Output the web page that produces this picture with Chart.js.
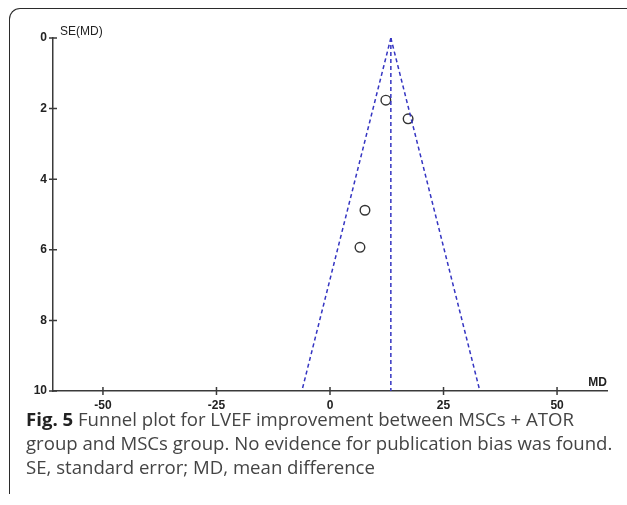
<!DOCTYPE html>
<html>
<head>
<meta charset="utf-8">
<script src="https://cdn.jsdelivr.net/npm/chart.js@4.4.1/dist/chart.umd.min.js"></script>
<style>
  html, body { margin: 0; padding: 0; background: #fff; }
  #wrap { position: relative; width: 627px; height: 505px; overflow: hidden; }
  #frame {
    position: absolute; left: 9px; top: 8px; width: 640px; height: 486px;
    border-top: 1.6px solid #2b2b2b; border-left: 1.6px solid #2b2b2b;
    border-top-left-radius: 11px; box-sizing: border-box;
  }
  #chartBox { position: absolute; left: 0; top: 0; width: 627px; height: 505px; }
  #caption {
    position: absolute; left: 26px; top: 407px;
    font-family: "Open Sans", sans-serif; font-size: 18.6px; line-height: 24px;
    color: #444; white-space: nowrap;
  }
  #caption b { color: #222; }
</style>
</head>
<body>
<div id="wrap">
  <div id="frame"></div>
  <div id="chartBox"><canvas id="funnelChart"></canvas></div>
  <div id="caption">
    <div><b>Fig. 5</b> Funnel plot for LVEF improvement between MSCs + ATOR</div>
    <div>group and MSCs group. No evidence for publication bias was found.</div>
    <div>SE, standard error; MD, mean difference</div>
  </div>
</div>
<script>
// study points (mean difference vs standard error)
let studyMD = [12.3, 17.2, 7.7, 6.6];
let studySE = [1.76, 2.29, 4.88, 5.93];

// funnel lines
let funnelSE = [0, 10];
let centerMD = [13.4, 13.4];
let lowerMD = [13.4, -6.2];
let upperMD = [13.4, 33.0];

let xTicks = [-50, -25, 0, 25, 50];
let yTicks = [0, 2, 4, 6, 8, 10];

let axisColor = '#3a3a3a';
let funnelColor = '#3535c2';
let tickFont = { family: '"Liberation Sans", Arial, sans-serif', size: 12, weight: 'bold' };

function toPoints(xs, ys){
    let pts = [];
    for(let i = 0; i < xs.length; i++){
        pts.push({x: xs[i], y: ys[i]});
    }
    return pts;
}

function funnelLine(xs){
    return {
        type: 'line',
        data: toPoints(xs, funnelSE),
        borderColor: funnelColor,
        borderWidth: 1.5,
        borderDash: [4, 3],
        pointRadius: 0,
        fill: false,
        tension: 0
    };
}

// tick marks that cross the axis line, plus the axis titles
const axisDecor = {
    id: 'axisDecor',
    afterDraw(chart){
        const ctx = chart.ctx;
        const xs = chart.scales.x;
        const ys = chart.scales.y;
        const area = chart.chartArea;
        ctx.save();
        ctx.strokeStyle = axisColor;
        ctx.lineWidth = 1.5;
        ctx.beginPath();
        xs.ticks.forEach(t => {
            let px = xs.getPixelForValue(t.value);
            ctx.moveTo(px, area.bottom - 4);
            ctx.lineTo(px, area.bottom + 4);
        });
        ys.ticks.forEach(t => {
            let py = ys.getPixelForValue(t.value);
            ctx.moveTo(area.left - 4, py);
            ctx.lineTo(area.left + 4, py);
        });
        ctx.stroke();

        ctx.fillStyle = '#222';
        ctx.font = '12px "Liberation Sans", Arial, sans-serif';
        ctx.textBaseline = 'middle';
        ctx.textAlign = 'left';
        ctx.fillText('SE(MD)', area.left + 7, area.top - 6);
        ctx.font = 'bold 12px "Liberation Sans", Arial, sans-serif';
        ctx.textAlign = 'right';
        ctx.fillText('MD', area.right, area.bottom - 8);
        ctx.restore();
    }
};

new Chart(document.getElementById('funnelChart'), {
    type: 'scatter',
    data: {
        datasets: [
            funnelLine(lowerMD),
            funnelLine(upperMD),
            funnelLine(centerMD),
            {
                type: 'scatter',
                data: toPoints(studyMD, studySE),
                pointStyle: 'circle',
                pointRadius: 4.8,
                pointBackgroundColor: 'rgba(255,255,255,0)',
                pointBorderColor: '#333',
                pointBorderWidth: 1.4,
                showLine: false
            }
        ]
    },
    options: {
        responsive: true,
        maintainAspectRatio: false,
        animation: false,
        layout: { padding: { left: 10, top: 38, right: 20, bottom: 95 } },
        scales: {
            x: {
                type: 'linear',
                min: -61,
                max: 61,
                afterBuildTicks(scale){ scale.ticks = xTicks.map(v => ({value: v})); },
                afterFit(scale){ scale.height = 19; },
                grid: { display: false, drawTicks: false },
                border: { display: true, color: axisColor, width: 1.5 },
                ticks: { padding: 7, color: '#222', font: tickFont, maxRotation: 0 }
            },
            y: {
                type: 'linear',
                reverse: true,
                min: 0,
                max: 10,
                afterBuildTicks(scale){ scale.ticks = yTicks.map(v => ({value: v})); },
                afterFit(scale){ scale.width = 43; },
                grid: { display: false, drawTicks: false },
                border: { display: true, color: axisColor, width: 1.5 },
                ticks: { padding: 6, color: '#222', font: tickFont }
            }
        },
        plugins: {
            legend: { display: false },
            tooltip: { enabled: false }
        }
    },
    plugins: [axisDecor]
});
</script>
</body>
</html>
